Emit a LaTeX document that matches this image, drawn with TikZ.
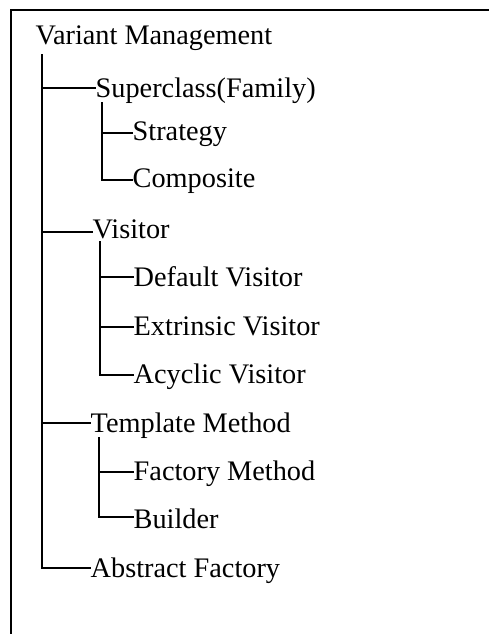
\documentclass[tikz,border=0pt]{standalone}
\usepackage{fontspec}
\setmainfont{Liberation Serif}
\begin{document}
\begin{tikzpicture}[x=1pt,y=-1pt,
  item/.style={anchor=base west,inner xsep=0.5pt,inner ysep=0pt,font=\fontsize{28.3}{34}\selectfont},
  tline/.style={line width=2.2pt,line cap=rect}]
\useasboundingbox (0,0) rectangle (489,634);
% frame (left and top edges, right and bottom cut off)
\draw[line width=2.2pt] (11,640) -- (11,10) -- (495,10);
% nodes
\node[item] (root) at (35,45) {Variant Management};
\node[item] (sup) at (95,97) {Superclass(Family)};
\node[item] (str) at (132,140) {Strategy};
\node[item] (com) at (132,187) {Composite};
\node[item] (vis) at (92,238) {Visitor};
\node[item] (dv) at (133,286) {Default Visitor};
\node[item] (ev) at (133,335) {Extrinsic Visitor};
\node[item] (av) at (133,383) {Acyclic Visitor};
\node[item] (tm) at (90,432) {Template Method};
\node[item] (fm) at (133,480) {Factory Method};
\node[item] (bu) at (133,528) {Builder};
\node[item] (af) at (90,577) {Abstract Factory};
% branch points
\coordinate (r0) at (42,55);
\coordinate (s0) at (102,103);
\coordinate (v0) at (100,242);
\coordinate (t0) at (99,438);
% level 1
\draw[tline] (r0) |- ([yshift=9pt]af.base west);
\draw[tline] ([yshift=9pt]r0 |- sup.base) -- ([yshift=9pt]sup.base west);
\draw[tline] ([yshift=6pt]r0 |- vis.base) -- ([yshift=6pt]vis.base west);
\draw[tline] ([yshift=9pt]r0 |- tm.base) -- ([yshift=9pt]tm.base west);
% level 2: Superclass
\draw[tline] (s0) |- ([yshift=7pt]com.base west);
\draw[tline] ([yshift=7pt]s0 |- str.base) -- ([yshift=7pt]str.base west);
% level 2: Visitor
\draw[tline] (v0) |- ([yshift=8pt]av.base west);
\draw[tline] ([yshift=9pt]v0 |- dv.base) -- ([yshift=9pt]dv.base west);
\draw[tline] ([yshift=8pt]v0 |- ev.base) -- ([yshift=8pt]ev.base west);
% level 2: Template Method
\draw[tline] (t0) |- ([yshift=11pt]bu.base west);
\draw[tline] ([yshift=8pt]t0 |- fm.base) -- ([yshift=8pt]fm.base west);
\end{tikzpicture}
\end{document}
